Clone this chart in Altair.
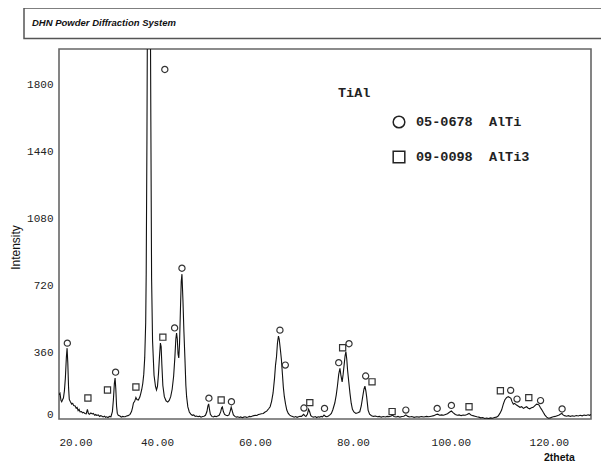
import altair as alt
import pandas as pd

# ---- diffraction profile (2theta in degrees, intensity in counts) ----
two_theta = [
    20.0, 20.2, 20.4, 20.55, 20.75, 20.9, 21.1, 21.3, 21.5, 21.65, 21.8, 21.95, 22.1, 22.35, 22.6, 22.8,
    23.0, 23.3, 23.5, 23.7, 23.9, 24.1, 24.3, 24.6, 24.8, 25.0, 25.3, 25.55, 25.8, 26.0, 26.2, 26.5,
    26.8, 27.0, 27.3, 27.5, 27.7, 28.0, 28.3, 28.5, 28.7, 29.0, 29.3, 29.5, 29.7, 30.0, 30.3, 30.6,
    30.9, 31.1, 31.3, 31.45, 31.6, 31.75, 31.9, 32.1, 32.45, 32.7, 33.0, 33.3, 33.5, 33.8, 34.1, 34.5,
    34.8, 35.0, 35.2, 35.45, 35.7, 35.9, 36.2, 36.5, 36.7, 36.9, 37.1, 37.3, 37.5, 37.7, 37.8, 37.95,
    38.1, 38.35, 38.6, 38.75, 38.9, 39.1, 39.4, 39.7, 39.9, 40.1, 40.3, 40.5, 40.7, 40.85, 41.0, 41.2,
    41.5, 41.85, 42.2, 42.5, 42.8, 43.1, 43.4, 43.65, 43.85, 44.0, 44.15, 44.3, 44.45, 44.6, 44.8, 44.95,
    45.1, 45.3, 45.5, 45.7, 45.9, 46.05, 46.3, 46.6, 46.9, 47.2, 47.5, 47.8, 48.1, 48.4, 48.7, 49.0,
    49.3, 49.6, 49.9, 50.2, 50.4, 50.55, 50.7, 50.9, 51.2, 51.5, 51.8, 52.1, 52.4, 52.7, 53.0, 53.2,
    53.35, 53.55, 53.8, 54.1, 54.4, 54.7, 54.95, 55.15, 55.35, 55.6, 55.9, 56.2, 56.5, 56.8, 57.1, 57.4,
    57.7, 58.0, 58.3, 58.6, 58.9, 59.2, 59.5, 59.8, 60.1, 60.4, 60.7, 61.0, 61.3, 61.7, 62.0, 62.4,
    62.8, 63.1, 63.4, 63.7, 64.0, 64.2, 64.4, 64.6, 64.8, 64.95, 65.2, 65.4, 65.6, 65.8, 66.0, 66.25,
    66.5, 66.8, 67.1, 67.4, 67.7, 68.0, 68.3, 68.6, 68.9, 69.2, 69.5, 69.75, 69.95, 70.15, 70.4, 70.7,
    70.95, 71.15, 71.4, 71.7, 72.0, 72.3, 72.6, 72.9, 73.2, 73.5, 73.8, 74.1, 74.4, 74.7, 75.0, 75.3,
    75.6, 75.9, 76.3, 76.6, 76.85, 77.1, 77.35, 77.55, 77.8, 78.0, 78.2, 78.4, 78.57, 78.75, 78.9, 79.15,
    79.4, 79.65, 79.9, 80.2, 80.6, 81.0, 81.4, 81.7, 82.0, 82.25, 82.45, 82.65, 82.8, 83.1, 83.4, 83.8,
    84.2, 84.6, 85.0, 85.4, 85.8, 86.2, 86.6, 87.0, 87.4, 87.8, 88.1, 88.4, 88.8, 89.2, 89.6, 90.0,
    90.4, 90.8, 91.2, 91.6, 92.0, 92.5, 93.0, 93.5, 94.0, 94.5, 95.0, 95.5, 96.0, 96.5, 97.0, 97.3,
    97.7, 98.1, 98.5, 98.9, 99.3, 99.7, 100.1, 100.5, 100.9, 101.3, 101.7, 102.1, 102.5, 102.9, 103.3, 103.7,
    104.1, 104.5, 104.9, 105.3, 105.7, 106.1, 106.5, 106.9, 107.3, 107.7, 108.1, 108.5, 108.9, 109.3, 109.65, 110.0,
    110.35, 110.7, 111.0, 111.35, 111.7, 112.0, 112.25, 112.5, 112.75, 113.0, 113.4, 113.7, 114.1, 114.45, 114.8, 115.1,
    115.45, 115.8, 116.1, 116.45, 116.8, 117.15, 117.5, 117.8, 118.0, 118.25, 118.5, 118.85, 119.2, 119.55, 119.9, 120.3,
    120.6, 120.9, 121.3, 121.7, 122.1, 122.4, 122.65, 122.9, 123.2, 123.6, 124.0, 124.4, 124.8, 125.2, 125.6, 126.0,
    126.4, 126.8, 127.2, 127.6, 128.0, 128.3, 128.6,
]
intensity = [
    130, 138, 100, 93, 105, 113, 150, 220, 330, 381, 300, 170, 105, 92, 80, 84,
    72, 70, 58, 62, 45, 52, 38, 40, 33, 36, 30, 28, 52, 30, 25, 32,
    27, 30, 20, 24, 19, 22, 14, 18, 16, 11, 15, 9, 12, 8, 14, 12,
    40, 102, 190, 220, 160, 70, 30, 20, 16, 10, 14, 12, 12, 16, 18, 25,
    40, 60, 86, 95, 116, 105, 102, 118, 138, 160, 191, 240, 330, 520, 780, 1500,
    2500, 3200, 2500, 1600, 760, 420, 235, 175, 156, 175, 240, 330, 408, 390, 290, 180,
    120, 98, 91, 100, 120, 160, 230, 330, 430, 462, 430, 350, 328, 400, 600, 740,
    779, 640, 470, 330, 180, 120, 65, 38, 26, 20, 22, 14, 16, 12, 15, 10,
    13, 15, 20, 40, 70, 81, 55, 25, 14, 11, 15, 12, 16, 20, 38, 60,
    65, 40, 25, 20, 18, 22, 42, 64, 45, 22, 14, 10, 12, 8, 11, 7,
    10, 12, 9, 11, 14, 12, 16, 18, 20, 19, 24, 26, 28, 30, 36, 42,
    55, 66, 95, 140, 220, 290, 335, 410, 446, 430, 371, 320, 245, 170, 120, 80,
    48, 30, 21, 16, 14, 10, 13, 9, 12, 15, 14, 20, 25, 18, 14, 25,
    52, 40, 18, 12, 10, 13, 8, 12, 10, 14, 12, 21, 14, 12, 16, 22,
    30, 50, 86, 130, 180, 240, 272, 235, 200, 240, 290, 340, 362, 320, 265, 200,
    138, 85, 52, 38, 30, 34, 39, 70, 120, 160, 177, 150, 120, 48, 26, 18,
    14, 16, 12, 14, 10, 13, 11, 14, 12, 16, 20, 13, 11, 14, 10, 13,
    15, 22, 14, 11, 13, 9, 12, 10, 13, 11, 14, 12, 15, 18, 24, 26,
    20, 22, 20, 24, 28, 36, 43, 33, 24, 20, 22, 18, 21, 20, 24, 30,
    22, 18, 15, 12, 10, 6, 8, 3, 5, 2, 6, 4, 8, 10, 16, 30,
    48, 80, 102, 115, 120, 116, 111, 92, 80, 84, 75, 70, 63, 66, 57, 62,
    66, 58, 55, 60, 63, 72, 80, 78, 75, 62, 52, 36, 21, 10, 4, 6,
    9, 12, 14, 18, 22, 27, 30, 22, 18, 15, 18, 14, 17, 15, 19, 16,
    20, 17, 21, 19, 23, 20, 24,
]

# ---- reference-card markers ----
alti_label = "05-0678\u00a0\u00a0AlTi"
alti3_label = "09-0098\u00a0\u00a0AlTi3"
alti_theta = [21.7, 31.55, 41.6, 43.6, 45.1, 50.6, 55.2, 65.1, 66.2, 70.0, 74.2, 77.1, 79.2, 82.6,
              90.8, 97.2, 100.1, 112.2, 113.5, 118.3, 122.7]
alti_int = [408, 252, 1880, 490, 811, 112, 93, 478, 290, 59, 57, 303, 405, 231,
            48, 57, 73, 154, 107, 99, 54]
alti3_theta = [25.9, 29.9, 35.7, 41.2, 53.1, 71.2, 77.9, 83.9, 88.0, 103.7, 110.1, 115.9]
alti3_int = [113, 156, 172, 440, 102, 88, 383, 200, 40, 66, 152, 115]

x_ticks = [20, 40, 60, 80, 100, 120]
y_ticks = [0, 360, 720, 1080, 1440, 1800]

profile = pd.DataFrame({"two_theta": two_theta, "intensity": intensity})
markers = pd.DataFrame({
    "two_theta": alti_theta + alti3_theta,
    "intensity": alti_int + alti3_int,
    "phase": [alti_label] * len(alti_theta) + [alti3_label] * len(alti3_theta),
})
one = pd.DataFrame({"k": [0]})

mono = "Liberation Mono"
sans = "Liberation Sans"

x_enc = alt.X(
    "two_theta:Q",
    scale=alt.Scale(domain=[20, 128.6], nice=False, zero=False),
    axis=alt.Axis(
        values=x_ticks, format=".2f", title="2theta", ticks=False, domain=False, grid=False,
        labelFont=mono, labelFontSize=11, labelColor="#222", labelPadding=17, labelFlush=True,
        titleFont=sans, titleFontSize=10.5, titleFontWeight="bold", titleColor="#111",
        titleX=500, titleY=38, titleAlign="center", titleBaseline="middle",
    ),
)
y_enc = alt.Y(
    "intensity:Q",
    scale=alt.Scale(domain=[0, 1990], nice=False),
    axis=alt.Axis(
        values=y_ticks, format="d", title="Intensity", ticks=False, domain=False, grid=False,
        labelFont=mono, labelFontSize=11, labelColor="#222", labelPadding=6, labelFlush=True,
        titleFont=sans, titleFontSize=12, titleFontWeight="normal", titleColor="#111",
        titleX=-44, titleY=198, titleAlign="center", titleBaseline="middle",
    ),
)

header_box = alt.Chart(one).mark_rect(fill="white", stroke="#555", strokeWidth=1.5).encode(
    x=alt.value(-35), x2=alt.value(600), y=alt.value(-41), y2=alt.value(-10.5)
)
header_text = alt.Chart(one).mark_text(
    text="DHN Powder Diffraction System", font=sans, fontSize=9.5, fontStyle="italic",
    fontWeight="bold", align="left", baseline="middle", color="#111",
).encode(x=alt.value(-27), y=alt.value(-26))

line = alt.Chart(profile).mark_line(color="#111", strokeWidth=1.1, clip=True).encode(x=x_enc, y=y_enc)

points = alt.Chart(markers).mark_point(
    filled=False, color="#333", strokeWidth=1.2, size=38, opacity=1
).encode(
    x="two_theta:Q",
    y="intensity:Q",
    shape=alt.Shape(
        "phase:N",
        scale=alt.Scale(domain=[alti_label, alti3_label], range=["circle", "square"]),
        legend=alt.Legend(
            orient="none", legendX=333, legendY=66, title=None, padding=0,
            symbolSize=135, symbolStrokeWidth=1.5, symbolStrokeColor="#222",
            symbolFillColor="transparent", labelFont=mono, labelFontSize=13.5,
            labelFontWeight="bold", labelColor="#222", labelOffset=10, rowPadding=17,
            labelLimit=0,
        ),
    ),
)

tial = alt.Chart(one).mark_text(
    text="TiAl", font=mono, fontSize=13.5, fontWeight="bold", align="left",
    baseline="middle", color="#222",
).encode(x=alt.value(279), y=alt.value(44))

chart = (
    alt.layer(header_box, header_text, line, points, tial)
    .properties(
        width=532, height=370,
        autosize=alt.AutoSizeParams(type="none"),
        padding={"left": 51, "top": 41, "right": 10, "bottom": 44},
        background="white",
    )
    .configure_view(stroke="#666", strokeWidth=1.6)
)

chart.save("out.html", embed_options={"renderer": "svg", "actions": False})
